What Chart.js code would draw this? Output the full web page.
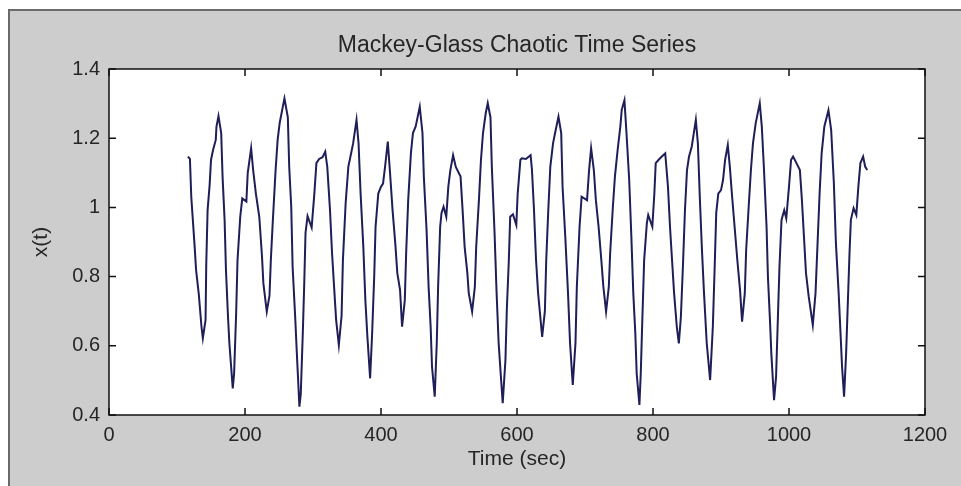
<!DOCTYPE html>
<html>
<head>
<meta charset="utf-8">
<script src="https://cdn.jsdelivr.net/npm/chart.js@4"></script>
<style>
  html, body { margin: 0; padding: 0; background: #fff; width: 961px; height: 486px; overflow: hidden; }
  #frame { position: absolute; left: 8px; top: 9px; right: 0; bottom: 0; background: #cdcdcd;
           border-top: 2px solid #6a6a6a; border-left: 2px solid #6a6a6a; }
  #wrap { position: absolute; left: 0; top: 0; width: 961px; height: 486px; }
</style>
</head>
<body>
<div id="frame"></div>
<div id="wrap"><canvas id="chart" width="961" height="486"></canvas></div>
<script>
// Mackey-Glass series (time in sec, x(t))
const times = [
  116, 119, 121, 126, 128, 132, 136, 138, 142, 143, 145, 148, 150, 153, 157, 158, 161,
  165, 167, 170, 172, 175, 177, 182, 184, 187, 189, 193, 196, 202, 204, 209,
  212, 216, 221, 225, 227, 232, 236, 238, 241, 245, 248, 251, 258,
  263, 265, 268, 270, 274, 276, 280, 282, 285, 287, 289, 292, 298, 302, 305, 309, 314, 318,
  321, 325, 328, 331, 334, 338, 342, 344, 348, 352, 356, 359, 364,
  367, 370, 374, 377, 380, 384, 387, 390, 392, 396, 400, 403, 406, 410,
  413, 417, 421, 424, 428, 431, 435, 437, 440, 444, 447, 451, 457,
  461, 463, 467, 470, 473, 475, 479, 482, 484, 487, 489, 492, 496, 499, 502, 506,
  510, 517, 520, 523, 527, 529, 534, 538, 540, 544, 547, 550, 554, 557,
  561, 563, 567, 570, 573, 576, 579, 583, 585, 588, 590, 594, 599, 601, 605, 607, 613, 620,
  622, 625, 628, 631, 637, 641, 643, 646, 649, 653, 656, 661,
  665, 667, 671, 675, 678, 682, 686, 688, 692, 695, 703, 706, 709,
  713, 716, 720, 724, 727, 731, 735, 737, 741, 744, 748, 752, 754, 758,
  761, 765, 768, 771, 774, 776, 780, 782, 784, 787, 791, 793, 799, 802, 804, 808, 813, 818,
  822, 825, 828, 831, 835, 838, 841, 844, 847, 850, 853, 857, 863,
  866, 869, 872, 875, 879, 884, 888, 891, 893, 896, 900, 903, 906, 910,
  913, 916, 920, 924, 928, 931, 935, 937, 941, 944, 947, 951, 957,
  960, 963, 967, 969, 972, 974, 978, 981, 984, 986, 989, 993, 996, 1000, 1003, 1006,
  1011, 1016, 1019, 1022, 1025, 1029, 1035, 1039, 1042, 1045, 1048, 1052, 1058,
  1062, 1066, 1069, 1073, 1076, 1078, 1081, 1084, 1087, 1089, 1091, 1095, 1099, 1102, 1105, 1109, 1112, 1115
];
const values = [
  1.147, 1.14, 1.03, 0.886, 0.82, 0.75, 0.655, 0.622, 0.675, 0.834, 0.992, 1.065, 1.137, 1.166, 1.195, 1.233, 1.264,
  1.215, 1.089, 0.964, 0.819, 0.684, 0.608, 0.477, 0.52, 0.695, 0.848, 0.973, 1.026, 1.017, 1.099, 1.171,
  1.108, 1.04, 0.973, 0.858, 0.781, 0.699, 0.745, 0.848, 0.964, 1.108, 1.195, 1.244, 1.315,
  1.26, 1.118, 1.002, 0.829, 0.675, 0.588, 0.424, 0.46, 0.637, 0.771, 0.926, 0.975, 0.942, 1.04, 1.128, 1.14, 1.145, 1.161,
  1.117, 0.992, 0.868, 0.771, 0.675, 0.602, 0.686, 0.848, 1.012, 1.118, 1.156, 1.185, 1.253,
  1.185, 1.04, 0.886, 0.732, 0.626, 0.506, 0.637, 0.8, 0.944, 1.04, 1.06, 1.069, 1.118, 1.19,
  1.108, 0.992, 0.896, 0.81, 0.762, 0.655, 0.732, 0.868, 1.021, 1.157, 1.215, 1.234, 1.291,
  1.215, 1.089, 0.935, 0.771, 0.655, 0.54, 0.453, 0.608, 0.771, 0.944, 0.984, 1.002, 0.973, 1.06, 1.108, 1.151,
  1.117, 1.089, 0.992, 0.886, 0.81, 0.753, 0.699, 0.77, 0.886, 1.021, 1.137, 1.215, 1.272, 1.301,
  1.26, 1.117, 0.926, 0.753, 0.608, 0.52, 0.434, 0.559, 0.703, 0.848, 0.973, 0.98, 0.949, 1.04, 1.137, 1.142, 1.14, 1.151,
  1.108, 0.992, 0.848, 0.753, 0.626, 0.7, 0.848, 0.992, 1.118, 1.185, 1.215, 1.262,
  1.215, 1.06, 0.915, 0.753, 0.608, 0.487, 0.608, 0.771, 0.944, 1.031, 1.021, 1.108, 1.171,
  1.108, 1.021, 0.944, 0.848, 0.771, 0.699, 0.77, 0.868, 1.002, 1.089, 1.166, 1.234, 1.282, 1.31,
  1.215, 1.079, 0.925, 0.753, 0.636, 0.52, 0.429, 0.52, 0.655, 0.848, 0.955, 0.978, 0.944, 1.04, 1.128, 1.137, 1.147, 1.156,
  1.06, 0.944, 0.848, 0.753, 0.655, 0.607, 0.684, 0.829, 0.992, 1.108, 1.147, 1.176, 1.253,
  1.185, 1.021, 0.877, 0.753, 0.608, 0.501, 0.655, 0.848, 0.984, 1.04, 1.05, 1.079, 1.137, 1.18,
  1.118, 1.04, 0.944, 0.848, 0.761, 0.67, 0.752, 0.877, 1.012, 1.108, 1.185, 1.243, 1.301,
  1.234, 1.118, 0.944, 0.8, 0.675, 0.578, 0.443, 0.511, 0.703, 0.829, 0.964, 0.992, 0.968, 1.06, 1.137, 1.147,
  1.128, 1.108, 1.021, 0.915, 0.81, 0.742, 0.66, 0.752, 0.896, 1.04, 1.156, 1.234, 1.281,
  1.224, 1.069, 0.896, 0.753, 0.626, 0.54, 0.453, 0.578, 0.753, 0.868, 0.964, 0.998, 0.978, 1.06, 1.128, 1.147, 1.118, 1.108
];
const xTicks = [0, 200, 400, 600, 800, 1000, 1200];
const xTickLabels = ["0", "200", "400", "600", "800", "1000", "1200"];
const yTicks = [0.4, 0.6, 0.8, 1, 1.2, 1.4];
const yTickLabels = ["0.4", "0.6", "0.8", "1", "1.2", "1.4"];

const FONT = "'Liberation Sans', Arial, sans-serif";
const INK = "#262626";
const TICK = 7;

// white axes background, black box and MATLAB-style inward ticks
const axesBox = {
  id: "axesBox",
  beforeDraw(c) {
    const a = c.chartArea, ctx = c.ctx;
    ctx.save();
    ctx.fillStyle = "#fff";
    ctx.fillRect(a.left, a.top, a.width, a.height);
    ctx.restore();
  },
  afterDatasetsDraw(c) {
    const { ctx, chartArea: a, scales: { x, y } } = c;
    ctx.save();
    ctx.strokeStyle = "#111";
    ctx.lineWidth = 1.5;
    ctx.strokeRect(a.left, a.top, a.width, a.height);
    ctx.beginPath();
    xTicks.forEach(v => {
      const px = x.getPixelForValue(v);
      ctx.moveTo(px, a.bottom); ctx.lineTo(px, a.bottom - TICK);
      ctx.moveTo(px, a.top); ctx.lineTo(px, a.top + TICK);
    });
    yTicks.forEach(v => {
      const py = y.getPixelForValue(v);
      ctx.moveTo(a.left, py); ctx.lineTo(a.left + TICK, py);
      ctx.moveTo(a.right, py); ctx.lineTo(a.right - TICK, py);
    });
    ctx.stroke();
    ctx.restore();
  }
};

new Chart(document.getElementById("chart"), {
  type: "line",
  data: {
    datasets: [{
      data: times.map((t, i) => ({ x: t, y: values[i] })),
      borderColor: "#1e1e58",
      borderWidth: 2,
      pointRadius: 0,
      tension: 0,
      fill: false
    }]
  },
  options: {
    responsive: false,
    animation: false,
    layout: { padding: { left: 0, right: 36, top: 0, bottom: 0 } },
    plugins: {
      legend: { display: false },
      tooltip: { enabled: false },
      title: {
        display: true,
        text: "Mackey-Glass Chaotic Time Series",
        fullSize: false,
        color: INK,
        font: { family: FONT, size: 23, weight: "normal", lineHeight: 1.2 },
        padding: { top: 32, bottom: 9.4 }
      }
    },
    scales: {
      x: {
        type: "linear",
        min: 0, max: 1200,
        afterBuildTicks: s => { s.ticks = xTicks.map(v => ({ value: v })); },
        afterFit: s => { s.height = 71; },
        grid: { display: false, drawTicks: false },
        border: { display: false },
        ticks: {
          color: INK, padding: 8, maxRotation: 0, font: { family: FONT, size: 20 },
          callback: (v, i) => xTickLabels[i]
        },
        title: {
          display: true, text: "Time (sec)", color: INK,
          font: { family: FONT, size: 21, lineHeight: 1.2 },
          padding: { top: 0, bottom: 14 }
        }
      },
      y: {
        type: "linear",
        min: 0.4, max: 1.4,
        afterBuildTicks: s => { s.ticks = yTicks.map(v => ({ value: v })); },
        afterFit: s => { s.width = 109; },
        grid: { display: false, drawTicks: false },
        border: { display: false },
        ticks: {
          color: INK, padding: 9, font: { family: FONT, size: 20 },
          callback: (v, i) => yTickLabels[i]
        },
        title: {
          display: true, text: "x(t)", color: INK,
          font: { family: FONT, size: 21, lineHeight: 1.2 },
          padding: { top: 29, bottom: 0 }
        }
      }
    }
  },
  plugins: [axesBox]
});
</script>
</body>
</html>
